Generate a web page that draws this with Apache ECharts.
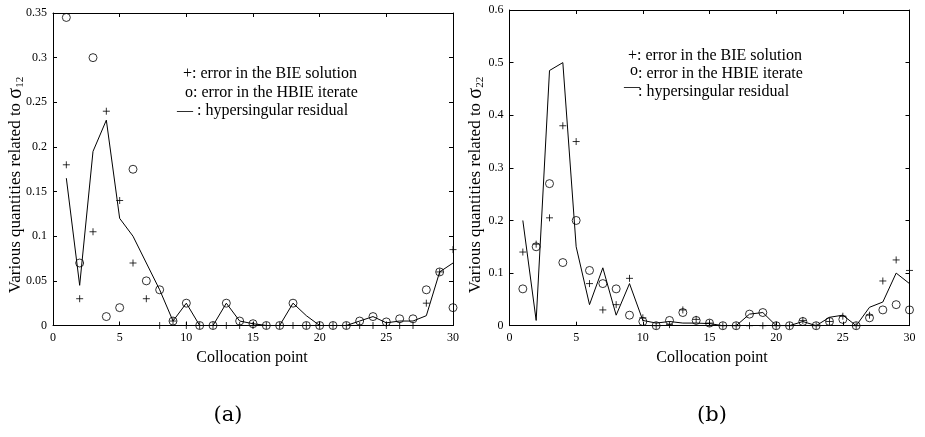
<!DOCTYPE html>
<html>
<head>
<meta charset="utf-8">
<script src="https://cdn.jsdelivr.net/npm/echarts@6/dist/echarts.min.js"></script>
<style>html,body{margin:0;padding:0;background:#fff}#c{width:925px;height:437px}</style>
</head>
<body>
<div id="c"></div>
<script>
const points = [1,2,3,4,5,6,7,8,9,10,11,12,13,14,15,16,17,18,19,20,21,22,23,24,25,26,27,28,29,30];
// (a) sigma12
const bieA   = [0.18,0.03,0.105,0.24,0.14,0.07,0.03,0,0.005,0,0,0,0,0,0,0,0,0,0,0,0,0,0,0,0,0,0,0.025,0.06,0.085];
const hbieA  = [0.345,0.07,0.30,0.01,0.02,0.175,0.05,0.04,0.005,0.025,0,0,0.025,0.005,0.002,0,0,0.025,0,0,0,0,0.005,0.01,0.004,0.0075,0.0075,0.04,0.06,0.02];
const residA = [0.165,0.045,0.195,0.23,0.12,0.10,0.07,0.04,0.005,0.025,0,0,0.025,0.005,0.002,0,0,0.025,0.011,0,0,0,0.005,0.01,0.003,0.005,0.005,0.011,0.06,0.07];
// (b) sigma22
const bieB   = [0.14,0.155,0.205,0.38,0.35,0.08,0.03,0.04,0.09,0.015,0,0.002,0.03,0.012,0.005,0,0,0,0,0,0,0.01,0,0.008,0.018,0,0.02,0.085,0.125,0.105];
const hbieB  = [0.07,0.15,0.27,0.12,0.2,0.105,0.08,0.07,0.02,0.008,0,0.01,0.025,0.01,0.005,0,0,0.022,0.025,0,0,0.008,0,0.008,0.012,0,0.015,0.03,0.04,0.03];
const residB = [0.2,0.01,0.485,0.5,0.15,0.04,0.11,0.02,0.08,0.01,0.005,0.008,0.005,0.005,0.004,0,0,0.022,0.025,0,0,0.008,0,0.016,0.02,0,0.035,0.045,0.1,0.08];
const xTicks = [0,5,10,15,20,25,30];
const yTicksA = [0,0.05,0.1,0.15,0.2,0.25,0.3,0.35];
const yTicksB = [0,0.1,0.2,0.3,0.4,0.5,0.6];

const FONT = '"Liberation Serif", "DejaVu Serif", serif';
const pair = (ys) => points.map((x,i)=>[x, ys[i]]);
const PLUS = 'path://M5,0L5,10M0,5L10,5';

function axesFor(gi, maxY, intY) {
  const lab = {color:'#000', fontFamily:FONT, fontSize:12, margin:6};
  const line = {show:true, onZero:false, lineStyle:{color:'#000', width:1}};
  const tick = {show:true, inside:true, length:4, lineStyle:{color:'#000'}};
  return {
    x: [
      {type:'value', gridIndex:gi, min:0, max:30, interval:5, position:'bottom', axisLine:line, axisTick:tick, axisLabel:lab, splitLine:{show:false}},
      {type:'value', gridIndex:gi, min:0, max:30, interval:5, position:'top', axisLine:line, axisTick:tick, axisLabel:{show:false}, splitLine:{show:false}}
    ],
    y: [
      {type:'value', gridIndex:gi, min:0, max:maxY, interval:intY, position:'left', axisLine:line, axisTick:tick, axisLabel:lab, splitLine:{show:false}},
      {type:'value', gridIndex:gi, min:0, max:maxY, interval:intY, position:'right', axisLine:line, axisTick:tick, axisLabel:{show:false}, splitLine:{show:false}}
    ]
  };
}
const A = axesFor(0, 0.35, 0.05);
const B = axesFor(1, 0.6, 0.1);

function seriesFor(xi, yi, bie, hbie, resid) {
  return [
    {type:'line', xAxisIndex:xi, yAxisIndex:yi, data:pair(resid), symbol:'none', lineStyle:{color:'#000', width:1}, z:2, silent:true, animation:false},
    {type:'scatter', xAxisIndex:xi, yAxisIndex:yi, data:pair(hbie), symbol:'circle', symbolSize:8, itemStyle:{color:'rgba(0,0,0,0)', borderColor:'#000', borderWidth:1}, z:3, animation:false},
    {type:'scatter', xAxisIndex:xi, yAxisIndex:yi, data:pair(bie), symbol:PLUS, symbolSize:7, itemStyle:{color:'rgba(0,0,0,0)', borderColor:'#000', borderWidth:1}, z:4, animation:false}
  ];
}

function txt(x, y, text, size, extra) {
  return {type:'text', x:x, y:y, style:Object.assign({text:text, fill:'#000', font: size+'px '+FONT, textVerticalAlign:'middle'}, extra||{})};
}
function ylabel(x, y, sub) {
  return {type:'text', x:x, y:y, rotation:Math.PI/2,
    style:{text:'{a|Various quantities related to }{g|σ}{s|'+sub+'}', textAlign:'center', textVerticalAlign:'middle', fill:'#000',
      rich:{a:{fontFamily:FONT, fontSize:17, fill:'#000'}, g:{fontFamily:FONT, fontSize:20, fill:'#000'}, s:{fontFamily:FONT, fontSize:11, fill:'#000', padding:[9,0,0,0]}}}};
}

const option = {
  animation:false,
  backgroundColor:'#fff',
  grid:[{left:53, top:13, width:400, height:312.5}, {left:509.5, top:10, width:400, height:315.7}],
  xAxis:[A.x[0], A.x[1], B.x[0], B.x[1]],
  yAxis:[A.y[0], A.y[1], B.y[0], B.y[1]],
  series:[].concat(seriesFor(0,0,bieA,hbieA,residA), seriesFor(2,2,bieB,hbieB,residB)),
  graphic:[
    txt(183, 74, '+: error in the BIE solution', 16),
    txt(185, 93, 'o: error in the HBIE iterate', 16),
    txt(177, 111, '— : hypersingular residual', 16),
    txt(628, 56, '+: error in the BIE solution', 16),
    txt(630, 71, 'o', 16),
    txt(638, 74, ': error in the HBIE iterate', 16),
    txt(624, 87, '—', 16),
    txt(638, 92, ': hypersingular residual', 16),
    txt(252, 358, 'Collocation point', 16, {textAlign:'center'}),
    txt(712, 358, 'Collocation point', 16, {textAlign:'center'}),
    txt(228, 416, '(a)', 21, {textAlign:'center', font:'21px "DejaVu Serif", serif'}),
    txt(712, 416, '(b)', 21, {textAlign:'center', font:'21px "DejaVu Serif", serif'}),
    ylabel(16, 185, '12'),
    ylabel(476, 185, '22')
  ]
};
echarts.init(document.getElementById('c')).setOption(option);
</script>
</body>
</html>
